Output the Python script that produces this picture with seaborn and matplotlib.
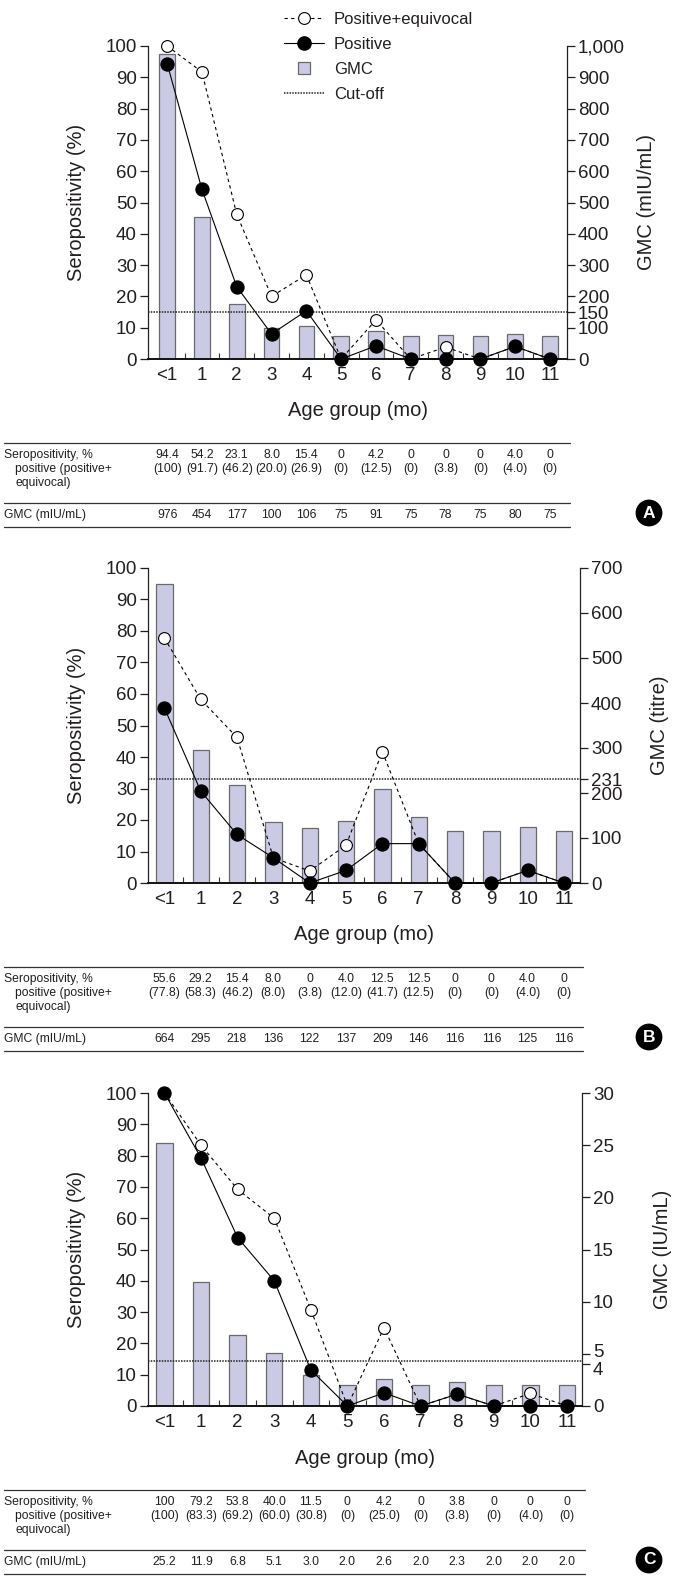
import matplotlib
matplotlib.use("Agg")
import matplotlib.pyplot as plt
import seaborn as sns
import numpy as np
import pandas as pd
from matplotlib import font_manager
from matplotlib.lines import Line2D
from matplotlib.transforms import blended_transform_factory, ScaledTranslation

# ---------------- data ----------------
ages = ["<1", "1", "2", "3", "4", "5", "6", "7", "8", "9", "10", "11"]

a_pos = [94.4, 54.2, 23.1, 8.0, 15.4, 0, 4.2, 0, 0, 0, 4.0, 0]
a_pe = [100, 91.7, 46.2, 20.0, 26.9, 0, 12.5, 0, 3.8, 0, 4.0, 0]
a_gmc = [976, 454, 177, 100, 106, 75, 91, 75, 78, 75, 80, 75]
a_cut = 150
a_rticks = [0, 100, 150, 200, 300, 400, 500, 600, 700, 800, 900, 1000]
a_rlabels = ["0", "100", "150", "200", "300", "400", "500", "600", "700", "800", "900", "1,000"]
a_unit = "GMC (mIU/mL)"

b_pos = [55.6, 29.2, 15.4, 8.0, 0, 4.0, 12.5, 12.5, 0, 0, 4.0, 0]
b_pe = [77.8, 58.3, 46.2, 8.0, 3.8, 12.0, 41.7, 12.5, 0, 0, 4.0, 0]
b_gmc = [664, 295, 218, 136, 122, 137, 209, 146, 116, 116, 125, 116]
b_cut = 231
b_rticks = [0, 100, 200, 231, 300, 400, 500, 600, 700]
b_rlabels = ["0", "100", "200", "231", "300", "400", "500", "600", "700"]
b_unit = "GMC (titre)"

c_pos = [100, 79.2, 53.8, 40.0, 11.5, 0, 4.2, 0, 3.8, 0, 0, 0]
c_pe = [100, 83.3, 69.2, 60.0, 30.8, 0, 25.0, 0, 3.8, 0, 4.0, 0]
c_gmc = [25.2, 11.9, 6.8, 5.1, 3.0, 2.0, 2.6, 2.0, 2.3, 2.0, 2.0, 2.0]
c_cut = 4.3
c_rticks = [0, 4, 5, 10, 15, 20, 25, 30]
c_rlabels = ["0", "4", "5", "10", "15", "20", "25", "30"]
c_unit = "GMC (IU/mL)"

left_ticks = [0, 10, 20, 30, 40, 50, 60, 70, 80, 90, 100]

# ---------------- style ----------------
sns.set_theme(style="white")
names = {f.name for f in font_manager.fontManager.ttflist}
if "Liberation Sans Narrow" in names:
    plt.rcParams["font.family"] = ["Liberation Sans Narrow", "Liberation Sans", "DejaVu Sans"]
    FS_TICK, FS_LAB, FS_LEG, FS_TAB = 15.5, 17, 13.5, 10
else:
    plt.rcParams["font.family"] = ["Liberation Sans", "DejaVu Sans"]
    FS_TICK, FS_LAB, FS_LEG, FS_TAB = 13.5, 14.5, 12, 8.7

TXT = "#231f20"
BAR = "#cacae4"
EDGE = "#6a6a6a"
plt.rcParams["text.color"] = TXT

W, H = 675, 1577
fig = plt.figure(figsize=(W / 100, H / 100), dpi=100)
fig.patch.set_facecolor("white")


def fy(ypx):
    return 1 - ypx / H


def fmt_pct(v):
    if v == 0:
        return "0"
    if v == 100:
        return "100"
    return f"{v:.1f}"


def panel(left, right, top, bottom, pos, pe, gmc, cut, rticks, rlabels, unit,
          letter, xlim, gmc_fmt, label_shift=None):
    ax = fig.add_axes([left / W, fy(bottom), (right - left) / W, (bottom - top) / H])
    axr = ax.twinx()
    ax.set_zorder(axr.get_zorder() + 1)
    ax.patch.set_visible(False)
    idx = np.arange(len(ages))

    df = pd.DataFrame({"x": idx, "gmc": gmc})
    sns.barplot(data=df, x="x", y="gmc", ax=axr, color=BAR, saturation=1,
                edgecolor=EDGE, linewidth=0.9, width=0.45, zorder=1)
    axr.set_ylim(0, rticks[-1])
    axr.axhline(cut, color="#222222", lw=1.1, ls=(0, (1, 0.8)), zorder=3)

    sns.lineplot(x=idx, y=pe, ax=ax, color="black", lw=0.8, linestyle=(0, (3, 3)),
                 marker="o", markersize=8.5, markerfacecolor="white",
                 markeredgecolor="black", markeredgewidth=0.8, clip_on=False, zorder=4)
    sns.lineplot(x=idx, y=pos, ax=ax, color="black", lw=0.8, linestyle="-",
                 marker="o", markersize=9.5, markerfacecolor="black",
                 markeredgecolor="black", markeredgewidth=0.8, clip_on=False, zorder=5)

    ax.set_ylim(0, 100)
    ax.set_xlim(*xlim)
    ax.set_xticks(idx, ages)
    ax.set_xticks(idx[:-1] + 0.5, minor=True)
    ax.set_yticks(left_ticks, [str(t) for t in left_ticks])
    axr.set_yticks(rticks, rlabels)

    for a in (ax, axr):
        a.spines["top"].set_visible(False)
        a.spines["bottom"].set_color("#111111")
        a.spines["bottom"].set_linewidth(1.2)
        a.spines["left"].set_color("#222222")
        a.spines["right"].set_color("#222222")
        a.spines["left"].set_linewidth(0.9)
        a.spines["right"].set_linewidth(0.9)
        a.grid(False)
    ax.spines["right"].set_visible(False)
    axr.spines["left"].set_visible(False)

    ax.tick_params(axis="x", which="major", length=0, pad=6, labelsize=FS_TICK, colors=TXT)
    ax.tick_params(axis="x", which="minor", length=4, width=0.8, direction="in",
                   color="#333333", bottom=True)
    ax.tick_params(axis="y", length=6, width=0.9, direction="out", pad=2,
                   labelsize=FS_TICK, colors=TXT, left=True)
    axr.tick_params(axis="y", length=6, width=0.9, direction="out", pad=2,
                    labelsize=FS_TICK, colors=TXT, right=True)

    ax.set_xlabel("Age group (mo)", fontsize=FS_LAB, color=TXT, va="center")
    ax.xaxis.set_label_coords(0.5, -52 / (bottom - top))
    ax.set_ylabel("Seropositivity (%)", fontsize=FS_LAB, color=TXT, va="center")
    ax.yaxis.set_label_coords((76 - left) / (right - left), 0.5)
    axr.set_ylabel(unit, fontsize=FS_LAB, color=TXT, va="center", rotation=90)
    axr.yaxis.set_label_coords((right + 80 - left) / (right - left), 0.5)
    axr.set_xlabel("")

    if label_shift:
        for lab, tv in zip(axr.get_yticklabels(), rticks):
            if tv in label_shift:
                lab.set_transform(lab.get_transform() +
                                  ScaledTranslation(0, label_shift[tv] / 100, fig.dpi_scale_trans))

    # ---- table ----
    t0 = bottom + 84
    xr = right + 3
    for yy in (t0, t0 + 60, t0 + 84):
        fig.add_artist(Line2D([4 / W, xr / W], [fy(yy), fy(yy)], transform=fig.transFigure,
                              color="#333333", lw=0.9))
    fs = FS_TAB
    fig.text(4 / W, fy(t0 + 12), "Seropositivity, %", ha="left", va="center", fontsize=fs)
    fig.text(15 / W, fy(t0 + 26), "positive (positive+", ha="left", va="center", fontsize=fs)
    fig.text(15 / W, fy(t0 + 40), "equivocal)", ha="left", va="center", fontsize=fs)
    fig.text(4 / W, fy(t0 + 72), "GMC (mIU/mL)", ha="left", va="center", fontsize=fs)
    tr = blended_transform_factory(ax.transData, fig.transFigure)
    for i in range(len(ages)):
        fig.text(i, fy(t0 + 12), fmt_pct(pos[i]), transform=tr, ha="center", va="center", fontsize=fs)
        fig.text(i, fy(t0 + 26), "(" + fmt_pct(pe[i]) + ")", transform=tr, ha="center",
                 va="center", fontsize=fs)
        fig.text(i, fy(t0 + 72), gmc_fmt(gmc[i]), transform=tr, ha="center", va="center", fontsize=fs)

    fig.text(649 / W, fy(t0 + 70), letter, ha="center", va="center", fontsize=12.5,
             fontweight="bold", color="white", family=["Liberation Sans", "DejaVu Sans"],
             bbox=dict(boxstyle="circle,pad=0.3", fc="black", ec="black"))
    return ax


panel(148, 567, 46, 359, a_pos, a_pe, a_gmc, a_cut, a_rticks, a_rlabels, a_unit, "A",
      (-0.55, 11.49), lambda v: f"{v:.0f}")
panel(148, 580, 568, 883, b_pos, b_pe, b_gmc, b_cut, b_rticks, b_rlabels, b_unit, "B",
      (-0.45, 11.44), lambda v: f"{v:.0f}")
panel(148, 582, 1093, 1406, c_pos, c_pe, c_gmc, c_cut, c_rticks, c_rlabels, c_unit, "C",
      (-0.45, 11.41), lambda v: f"{v:.1f}", label_shift={5: 3, 4: -4})

# ---- legend (panel A) ----
h1 = Line2D([], [], color="black", lw=0.8, ls=(0, (3, 3)), marker="o", ms=8.5,
            mfc="white", mec="black", mew=0.8)
h2 = Line2D([], [], color="black", lw=0.8, marker="o", ms=9.5, mfc="black", mec="black")
h3 = Line2D([], [], ls="none", marker="s", ms=8, mfc=BAR, mec=EDGE, mew=0.9)
h4 = Line2D([], [], color="#222222", lw=1.1, ls=(0, (1, 0.8)))
fig.legend([h1, h2, h3, h4], ["Positive+equivocal", "Positive", "GMC", "Cut-off"],
           loc="upper left", bbox_to_anchor=(284 / W, fy(12)), frameon=False, fontsize=FS_LEG,
           handlelength=2.4, handletextpad=0.6, labelspacing=0.6, borderpad=0,
           borderaxespad=0, numpoints=1)

fig.savefig("out.png", dpi=100, facecolor="white")
